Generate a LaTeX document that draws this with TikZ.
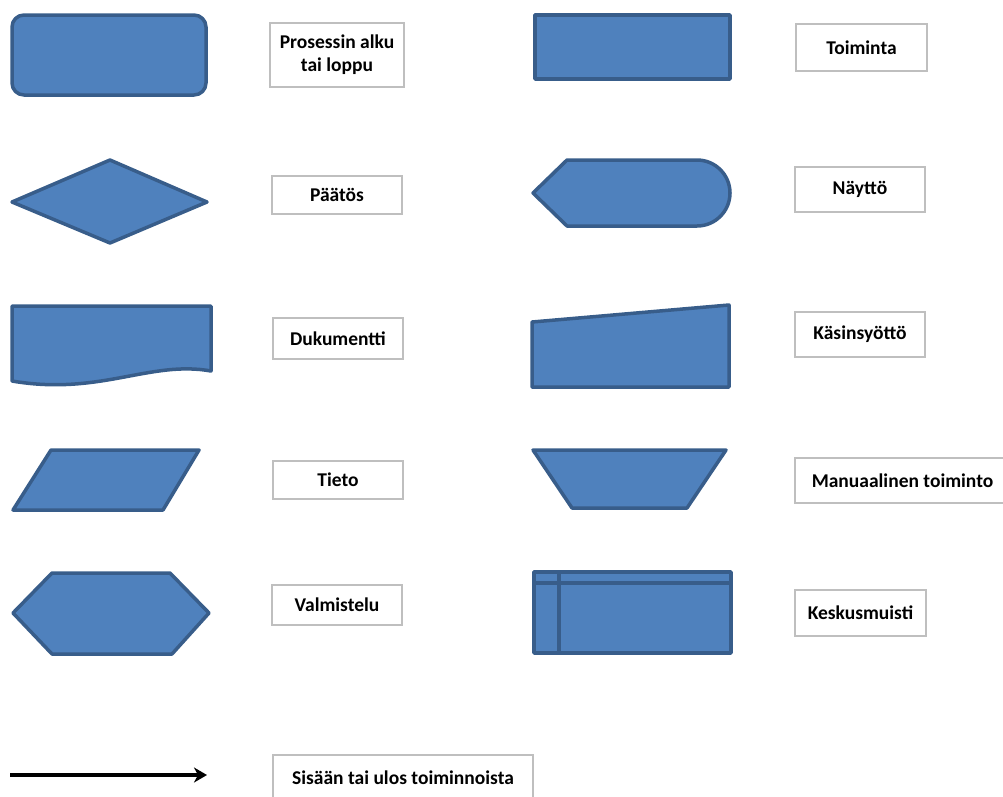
\documentclass[tikz,border=0pt]{standalone}
\usepackage{fontspec}
\setmainfont{Carlito}
\usetikzlibrary{arrows.meta}
\definecolor{shapefill}{HTML}{4F81BD}
\definecolor{shapeline}{HTML}{385D8A}
\definecolor{boxline}{HTML}{BFBFBF}
\tikzset{
  symbol/.style={fill=shapefill, draw=shapeline, line width=3.5pt, line join=round},
  legend/.style={draw=boxline, line width=1.8pt, fill=white, inner sep=0pt,
    align=center, font=\fontsize{19.5}{23}\selectfont\bfseries},
  flowarrow/.style={draw=black, line width=3.5pt, -{Stealth[length=13pt,width=15pt,inset=4pt]}}
}
\begin{document}
\begin{tikzpicture}[x=1pt,y=-1pt]
\useasboundingbox (0,0) rectangle (1003,796);

% --- left column of symbols ---
% terminator
\draw[symbol, rounded corners=12pt] (12,15) rectangle (206,95);
% decision
\draw[symbol] (12,202) -- (110,160) -- (207,202) -- (110,243) -- cycle;
% document
\draw[symbol] (12,306) -- (211,306) -- (211,371)
  .. controls (150,360) and (100,396) .. (12,381) -- cycle;
% data (parallelogram)
\draw[symbol] (51,450) -- (199,450) -- (163,510) -- (13,510) -- cycle;
% preparation (hexagon)
\draw[symbol] (13,613) -- (52,573) -- (170,573) -- (209,613) -- (172,654) -- (52,654) -- cycle;

% --- right column of symbols ---
% process
\draw[symbol] (535,15) rectangle (730,79);
% display (y axis points down, so the right half-circle runs from -90 to 90)
\draw[symbol] (533,193) -- (567,160) -- (697,160)
  arc[start angle=-90, end angle=90, radius=33] -- (567,226) -- cycle;
% manual input
\draw[symbol] (532,322) -- (729,305) -- (729,387) -- (532,387) -- cycle;
% manual operation
\draw[symbol] (533,450) -- (726,450) -- (687,508) -- (572,508) -- cycle;
% internal storage
\draw[symbol] (534,572) rectangle (731,653);
\draw[symbol] (534,583) -- (731,583);
\draw[symbol] (559,572) -- (559,653);

% --- flow line ---
\coordinate (flowstart) at (10,775);
\coordinate (flowend) at (207,775);
\draw[flowarrow] (flowstart) -- (flowend);

% --- legend boxes ---
\node[legend, minimum width=134pt, minimum height=64pt] (terminal) at (337,55) {Prosessin alku\\tai loppu};
\node[legend, minimum width=130pt, minimum height=38pt] (decision) at (337,195) {Päätös};
\node[legend, minimum width=130pt, minimum height=41pt] (document) at (338,338.5) {Dukumentti};
\node[legend, minimum width=130pt, minimum height=38pt] (data) at (338,480) {Tieto};
\node[legend, minimum width=130pt, minimum height=40pt] (preparation) at (337,605) {Valmistelu};

\node[legend, minimum width=131pt, minimum height=47pt] (process) at (861.5,47.5) {Toiminta};
\node[legend, minimum width=130pt, minimum height=45pt] (display) at (860,189.5) {Näyttö};
\node[legend, minimum width=130pt, minimum height=45pt] (manualinput) at (860,334.5) {Käsinsyöttö};
\node[legend, minimum width=215pt, minimum height=45pt] (manualop) at (902.5,480.5) {Manuaalinen toiminto};
\node[legend, minimum width=131pt, minimum height=46pt] (storage) at (860.5,613) {Keskusmuisti};

\node[legend, minimum width=260pt, minimum height=46pt] (flowline) at (403,778) {Sisään tai ulos toiminnoista};
\end{tikzpicture}
\end{document}
